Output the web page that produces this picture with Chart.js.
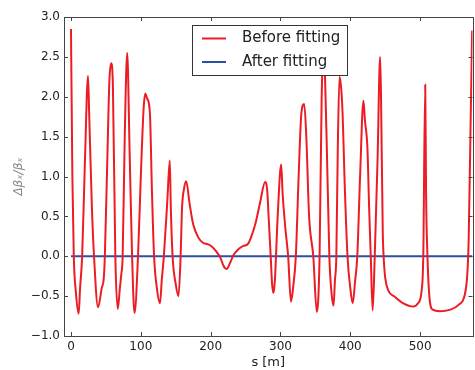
<!DOCTYPE html>
<html>
<head>
<meta charset="utf-8">
<script src="https://cdn.jsdelivr.net/npm/chart.js@4"></script>
<style>
  html, body { margin: 0; padding: 0; background: #fff; }
  #wrap { width: 475px; height: 370px; position: relative; }
</style>
</head>
<body>
<div id="wrap"><canvas id="beta-chart"></canvas></div>
<script>
// s positions [m] and relative beta error before fitting
const sPos = [0, 2, 4, 7, 11, 13, 16, 20, 24.4, 26, 30, 33, 38.7, 44, 47, 48.5, 52, 55, 57.5, 60,
  63.5, 67, 70, 72, 74, 77, 80.5, 84, 87.5, 91, 96, 100, 104, 106.5, 109, 113, 116, 119, 123, 127.5,
  130, 133, 138, 141.5, 143, 145.5, 150, 154, 157, 159, 162, 165, 170, 175, 182, 189, 196, 202, 208, 214,
  219, 223, 228, 233, 240, 247, 253, 258, 265, 271, 278, 281, 283, 286, 288, 290, 292, 296, 301, 303,
  307, 311, 315, 318, 322, 326, 330, 334, 337, 341, 347, 352, 356, 359, 362, 366, 370, 373, 376, 378,
  380, 382, 384.5, 387, 389, 392, 396, 400, 403.5, 407, 410, 414, 418.8, 421, 424.5, 427, 429.3, 432, 435, 439,
  442.7, 444, 446.5, 448, 450, 454, 464, 476, 490, 497, 502, 504.5, 507.3, 508.5, 510.5, 513, 518, 528, 543, 555,
  564, 567.5, 569.5, 572, 574.5];
const before = [2.85, 1.0, 0.0, -0.45, -0.72, -0.4, 0, 1.2, 2.26, 1.8, 0.6, 0, -0.64, -0.4, -0.27, 0, 1.2, 2.2, 2.42, 2.15,
  0, -0.66, -0.4, -0.23, 0, 1.5, 2.55, 1.3, 0, -0.71, 0, 1.0, 1.85, 2.04, 1.98, 1.8, 0.8, 0, -0.4, -0.59,
  -0.3, 0, 0.7, 1.2, 0.6, 0, -0.35, -0.5, 0, 0.6, 0.85, 0.94, 0.65, 0.4, 0.24, 0.17, 0.15, 0.12, 0.06, -0.02,
  -0.13, -0.16, -0.08, 0.02, 0.09, 0.13, 0.15, 0.24, 0.44, 0.68, 0.93, 0.83, 0.5, 0, -0.35, -0.46, -0.3, 0.5, 1.15, 0.8,
  0.35, 0, -0.57, -0.4, 0, 1.0, 1.8, 1.91, 1.5, 0.5, 0, -0.70, 0, 2.0, 2.55, 1.5, 0, -0.45, -0.62, -0.3,
  0, 1.3, 2.25, 2.1, 1.78, 0.9, 0, -0.4, -0.59, -0.3, 0, 1.0, 1.95, 1.7, 1.36, 0.6, 0, -0.68, 0, 1.2,
  2.5, 2.0, 0.3, -0.05, -0.27, -0.42, -0.51, -0.59, -0.63, -0.59, -0.44, 0, 2.15, 0.8, 0, -0.48, -0.67, -0.69, -0.67, -0.61,
  -0.48, -0.23, 0.2, 1.5, 2.83];

// after fitting the error is flat
const afterS = [0, 575];
const afterVals = [0, 0];

const xTicks = [0, 100, 200, 300, 400, 500];
const yTicks = [-1.0, -0.5, 0.0, 0.5, 1.0, 1.5, 2.0, 2.5, 3.0];

const fmt = v => v.toFixed(1).replace('-', '\u2212');

// matplotlib-like frame, inward ticks and boxed legend
const mplFrame = {
  id: 'mplFrame',
  afterDraw(chart) {
    const ctx = chart.ctx;
    const a = chart.chartArea;
    const xs = chart.scales.x, ys = chart.scales.y;
    const tl = 4;
    ctx.save();
    ctx.strokeStyle = '#444';
    ctx.lineWidth = 1;
    ctx.beginPath();
    xTicks.forEach(v => {
      const px = Math.round(xs.getPixelForValue(v)) + 0.5;
      ctx.moveTo(px, a.bottom); ctx.lineTo(px, a.bottom - tl);
      ctx.moveTo(px, a.top); ctx.lineTo(px, a.top + tl);
    });
    yTicks.forEach(v => {
      const py = Math.round(ys.getPixelForValue(v)) + 0.5;
      ctx.moveTo(a.left, py); ctx.lineTo(a.left + tl, py);
      ctx.moveTo(a.right, py); ctx.lineTo(a.right - tl, py);
    });
    ctx.stroke();
    ctx.strokeRect(Math.round(a.left) + 0.5, Math.round(a.top) + 0.5,
      Math.round(a.right - a.left), Math.round(a.bottom - a.top));

    // legend
    const lx = 192, ly = 25, lw = 155, lh = 50;
    ctx.fillStyle = '#fff';
    ctx.fillRect(lx, ly, lw, lh);
    ctx.strokeStyle = '#333';
    ctx.strokeRect(lx + 0.5, ly + 0.5, lw, lh);
    ctx.font = '15px "DejaVu Sans"';
    ctx.textBaseline = 'middle';
    chart.data.datasets.forEach((ds, i) => {
      const y = ly + 13.5 + i * 23.5;
      ctx.strokeStyle = ds.borderColor;
      ctx.lineWidth = 2;
      ctx.beginPath();
      ctx.moveTo(lx + 10, y); ctx.lineTo(lx + 34, y);
      ctx.stroke();
      ctx.fillStyle = '#222';
      ctx.fillText(ds.label, lx + 50, y);
    });
    ctx.restore();
  }
};

const graph = document.getElementById('beta-chart');

const chart = new Chart(graph, {
  type: 'line',
  data: {
    datasets: [{
      label: 'Before fitting',
      data: sPos.map((s, i) => ({ x: s, y: before[i] })),
      borderColor: '#ec1c24',
      borderWidth: 2,
      pointRadius: 0,
      fill: false,
      cubicInterpolationMode: 'monotone'
    }, {
      label: 'After fitting',
      data: afterS.map((s, i) => ({ x: s, y: afterVals[i] })),
      borderColor: '#2b50a0',
      borderWidth: 2,
      pointRadius: 0,
      fill: false
    }]
  },
  options: {
    responsive: true,
    maintainAspectRatio: false,
    animation: false,
    layout: { padding: { top: 17, right: 2.5, left: 0, bottom: 0 } },
    plugins: {
      legend: { display: false },
      tooltip: { enabled: false }
    },
    scales: {
      x: {
        type: 'linear',
        min: -10,
        max: 575,
        afterBuildTicks: s => { s.ticks = xTicks.map(v => ({ value: v })); },
        afterFit: s => { s.height = 34; },
        grid: { display: false, drawTicks: false },
        border: { display: false },
        ticks: {
          padding: 4,
          color: '#222',
          font: { family: 'DejaVu Sans', size: 12 },
          maxRotation: 0,
          callback: v => String(v)
        },
        title: {
          display: true,
          text: 's [m]',
          color: '#222',
          font: { family: 'DejaVu Sans', size: 13 },
          padding: 0
        }
      },
      y: {
        min: -1.0,
        max: 3.0,
        afterBuildTicks: s => { s.ticks = yTicks.map(v => ({ value: v })); },
        afterFit: s => { s.width = 64; },
        grid: { display: false, drawTicks: false },
        border: { display: false },
        ticks: {
          padding: 4,
          color: '#222',
          font: { family: 'DejaVu Sans', size: 12 },
          callback: v => fmt(v)
        },
        title: {
          display: true,
          text: '\u0394\u03b2\u2093/\u03b2\u2093',
          color: '#888',
          font: { family: 'DejaVu Sans', size: 12, style: 'italic' },
          padding: { top: 12, bottom: 0 }
        }
      }
    }
  },
  plugins: [mplFrame]
});
</script>
</body>
</html>
